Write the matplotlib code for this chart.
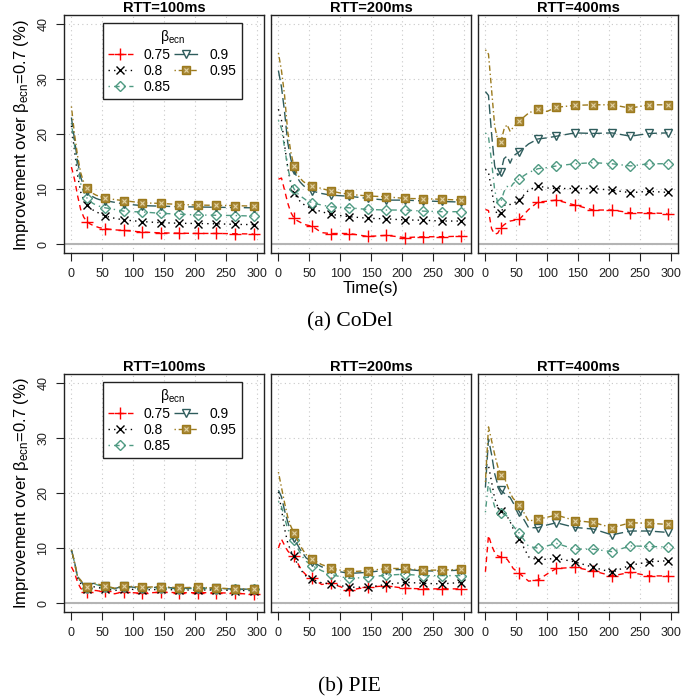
import matplotlib
matplotlib.use("Agg")
import matplotlib.pyplot as plt
from matplotlib.lines import Line2D

plt.rcParams['font.family'] = ['Liberation Sans', 'DejaVu Sans']
plt.rcParams['mathtext.fontset'] = 'custom'
plt.rcParams['mathtext.rm'] = 'Liberation Sans'
plt.rcParams['mathtext.it'] = 'Liberation Sans:italic'

# time axis (s) and the times where a marker is drawn
T = [0, 5, 10, 15, 20, 25, 30, 35, 40, 45, 55, 70, 85, 100, 115, 145, 175, 205, 235, 265, 295]
MARK_T = [25, 55, 85, 115, 145, 175, 205, 235, 265, 295]

betas = ['0.75', '0.8', '0.85', '0.9', '0.95']
rtts = ['RTT=100ms', 'RTT=200ms', 'RTT=400ms']

# improvement over beta_ecn=0.7 (%), one row per beta
codel_rtt100 = [
    [14.0, 11.8, 8.8, 6.3, 4.9, 4.1, 3.7, 3.4, 3.2, 3.0, 2.8, 2.6, 2.5, 2.35, 2.2, 2.05, 2.0, 1.95, 1.95, 1.9, 1.85],
    [21.5, 17.0, 12.5, 9.5, 8.0, 7.05, 6.6, 6.2, 5.9, 5.6, 5.1, 4.7, 4.4, 4.25, 4.1, 3.9, 3.8, 3.75, 3.7, 3.6, 3.55],
    [22.0, 18.0, 14.0, 11.0, 9.4, 8.4, 7.8, 7.4, 7.1, 6.9, 6.6, 6.3, 6.0, 5.9, 5.85, 5.6, 5.45, 5.3, 5.25, 5.2, 5.1],
    [23.0, 19.0, 15.0, 12.2, 10.5, 9.6, 9.0, 8.6, 8.3, 8.1, 7.9, 7.6, 7.3, 7.15, 7.0, 6.9, 6.8, 6.75, 6.7, 6.65, 6.6],
    [25.0, 20.0, 16.0, 13.0, 11.2, 10.2, 9.6, 9.2, 8.9, 8.7, 8.4, 8.1, 7.9, 7.7, 7.5, 7.4, 7.2, 7.1, 7.05, 7.0, 6.9],
]
codel_rtt200 = [
    [11.8, 12.0, 9.8, 7.5, 5.8, 4.8, 4.3, 4.0, 3.7, 3.5, 3.25, 2.1, 1.93, 1.95, 1.93, 1.4, 1.6, 1.2, 1.35, 1.35, 1.45],
    [24.5, 22.5, 18.0, 14.0, 11.0, 9.35, 8.5, 7.8, 7.3, 6.9, 6.45, 5.9, 5.4, 5.2, 5.0, 4.7, 4.6, 4.4, 4.35, 4.2, 4.2],
    [22.5, 21.0, 17.5, 14.0, 11.5, 10.1, 9.3, 8.8, 8.4, 8.0, 7.5, 7.1, 6.8, 6.7, 6.6, 6.3, 6.2, 6.2, 6.0, 5.9, 5.9],
    [31.5, 28.5, 24.0, 18.5, 15.5, 13.4, 12.2, 11.3, 10.7, 10.2, 9.65, 9.2, 8.9, 8.8, 8.7, 8.3, 8.0, 8.0, 7.85, 7.75, 7.65],
    [34.7, 31.5, 27.0, 20.5, 16.8, 14.2, 12.8, 12.0, 11.4, 11.0, 10.6, 10.1, 9.65, 9.3, 9.05, 8.75, 8.6, 8.3, 8.25, 8.15, 8.0],
]
codel_rtt400 = [
    [6.3, 6.1, 2.8, 1.8, 2.0, 3.0, 3.5, 3.9, 4.2, 4.3, 4.5, 6.3, 7.65, 7.8, 8.0, 7.1, 6.2, 6.2, 5.7, 5.7, 5.55],
    [13.6, 13.0, 10.0, 6.5, 5.2, 5.6, 7.0, 7.3, 7.2, 7.4, 8.1, 9.8, 10.6, 10.2, 10.1, 10.1, 10.1, 9.8, 9.35, 9.6, 9.4],
    [20.2, 19.5, 15.0, 9.8, 7.5, 7.65, 9.5, 10.5, 10.2, 11.0, 11.9, 13.0, 13.7, 13.9, 14.2, 14.6, 14.8, 14.6, 14.2, 14.6, 14.6],
    [27.7, 27.0, 20.0, 14.2, 12.5, 13.1, 15.5, 16.0, 14.7, 16.0, 16.8, 18.2, 19.1, 19.3, 19.6, 20.2, 20.1, 20.2, 19.6, 20.1, 20.2],
    [35.3, 34.5, 28.0, 21.5, 18.8, 18.5, 20.8, 21.7, 20.5, 21.2, 22.4, 23.8, 24.55, 24.1, 24.85, 25.2, 25.3, 25.3, 24.7, 25.3, 25.3],
]
pie_rtt100 = [
    [6.6, 5.5, 3.8, 2.7, 2.2, 2.0, 2.1, 2.3, 2.3, 2.2, 2.2, 1.7, 2.1, 1.9, 1.8, 2.0, 1.9, 1.9, 1.9, 1.8, 1.6],
    [9.5, 7.3, 4.6, 3.6, 2.9, 2.5, 2.8, 3.0, 2.9, 2.8, 2.6, 2.3, 2.6, 2.5, 2.4, 2.5, 2.4, 2.4, 2.4, 2.3, 2.3],
    [9.6, 7.4, 4.7, 3.9, 3.2, 2.8, 3.2, 3.5, 3.4, 3.2, 3.0, 2.6, 3.0, 2.8, 2.7, 2.8, 2.6, 2.7, 2.6, 2.5, 2.5],
    [9.7, 7.5, 4.8, 4.1, 3.3, 2.9, 3.3, 3.6, 3.5, 3.3, 3.1, 2.65, 3.1, 2.9, 2.8, 2.9, 2.7, 2.8, 2.7, 2.55, 2.55],
    [9.7, 7.5, 4.8, 4.2, 3.4, 3.0, 3.4, 3.7, 3.6, 3.4, 3.2, 2.7, 3.2, 3.0, 2.9, 3.0, 2.8, 2.9, 2.75, 2.6, 2.6],
]
pie_rtt200 = [
    [10.0, 11.6, 10.5, 9.5, 8.9, 8.55, 7.5, 6.5, 5.7, 5.1, 4.5, 3.4, 3.6, 3.0, 2.4, 2.9, 3.15, 2.7, 2.6, 2.6, 2.6],
    [20.2, 17.0, 13.5, 11.0, 9.5, 8.55, 7.3, 6.3, 5.5, 4.9, 4.3, 3.7, 3.5, 3.2, 2.9, 2.9, 3.4, 3.8, 3.6, 3.5, 3.75],
    [18.5, 17.5, 15.5, 13.5, 12.3, 11.45, 10.2, 9.2, 8.3, 7.6, 6.8, 5.9, 5.25, 4.8, 4.5, 4.7, 5.1, 5.25, 5.0, 5.0, 5.0],
    [20.5, 19.3, 16.8, 14.8, 13.0, 11.8, 10.8, 9.8, 9.0, 8.2, 7.5, 6.6, 6.15, 5.7, 5.4, 5.6, 6.0, 6.15, 5.85, 5.85, 6.0],
    [23.8, 21.0, 18.2, 15.7, 14.0, 12.8, 11.6, 10.5, 9.6, 8.8, 7.96, 7.0, 6.45, 6.0, 5.7, 5.9, 6.3, 6.3, 6.0, 6.0, 6.15],
]
pie_rtt400 = [
    [5.7, 12.3, 10.5, 9.2, 8.6, 8.4, 8.1, 8.0, 7.2, 6.3, 5.4, 4.0, 4.2, 5.3, 6.3, 6.5, 5.85, 4.95, 5.6, 4.95, 4.95],
    [24.5, 25.0, 22.0, 19.0, 17.5, 16.8, 16.3, 15.8, 14.8, 13.5, 11.7, 8.4, 7.85, 8.0, 8.15, 7.5, 6.5, 5.6, 6.9, 7.5, 7.7],
    [16.5, 22.0, 19.5, 17.5, 16.8, 16.4, 16.2, 15.8, 15.0, 14.0, 12.7, 10.3, 10.0, 10.4, 10.85, 9.8, 9.8, 9.35, 10.4, 10.3, 10.2],
    [21.0, 29.8, 27.0, 23.5, 21.5, 20.5, 20.0, 19.5, 19.2, 18.2, 16.6, 13.7, 13.7, 14.2, 14.6, 13.75, 13.45, 12.4, 13.1, 13.1, 12.85],
    [22.0, 32.0, 29.5, 27.0, 24.8, 23.2, 23.0, 21.5, 20.0, 19.0, 17.9, 14.9, 15.25, 15.6, 16.0, 15.0, 14.65, 13.7, 14.6, 14.5, 14.3],
]

# styles (R-like lty / pch)
colors = ['#ff0000', '#000000', '#4f9a82', '#2e5c5c', '#9c7a1c']
lstyles = [(0, (4, 3)), (0, (1, 3)), (0, (1, 3, 4, 3)), (0, (7, 3)), (0, (1, 2, 4, 2))]
markers = ['+', 'x', 'D', 'v', 's']
msizes = [8, 6, 5.5, 6, 6]
mfcs = ['none', 'none', 'none', 'none', '#a98a3a']

marks = [T.index(t) for t in MARK_T]

fig = plt.figure(figsize=(6.97, 6.97), dpi=100)

W = 200 / 697
H = 238 / 697
lefts = [64 / 697, 271 / 697, 478 / 697]
groups = [
    ('(a) CoDel', [codel_rtt100, codel_rtt200, codel_rtt400], 1 - 253 / 697, 1 - 322 / 697, 1 - 135 / 697, True),
    ('(b) PIE', [pie_rtt100, pie_rtt200, pie_rtt400], 1 - 612 / 697, 1 - 687 / 697, 1 - 493 / 697, False),
]

ylab = 'Improvement over β$_{\\rm ecn}$=0.7 (%)'

for caption, panels, bottom, cap_y, lab_y, show_time in groups:
    for j, data in enumerate(panels):
        ax = fig.add_axes([lefts[j], bottom, W, H])
        ax.set_xlim(-12, 312)
        ax.set_ylim(-1.6, 41.6)
        ax.set_xticks(range(0, 301, 50))
        ax.set_yticks(range(0, 41, 10))
        ax.grid(True, linestyle=(0, (1, 3)), color='#c8c8c8', lw=0.8)
        ax.set_axisbelow(True)
        ax.axhline(0, color='#b4b4b4', lw=1.5, zorder=1)
        for i, vals in enumerate(data):
            ax.plot(T, vals, color=colors[i], ls=lstyles[i], lw=1.0,
                    marker=markers[i], markevery=marks, ms=msizes[i],
                    mfc=mfcs[i], mec=colors[i], mew=1.0, zorder=3)
            if i == 4:
                ax.plot([T[k] for k in marks], [vals[k] for k in marks], ls='none',
                        marker='x', ms=3.2, color='#e2d3a4', mew=0.8, zorder=4)
        for s in ax.spines.values():
            s.set_linewidth(1.0)
            s.set_color('#222222')
        ax.tick_params(direction='out', length=5.5, width=0.8, labelsize=9, pad=5,
                       colors='#222222')
        ax.set_title(rtts[j], fontsize=10.5, fontweight='bold', pad=2)
        if j == 0:
            for lbl in ax.get_yticklabels():
                lbl.set_rotation(90)
                lbl.set_va('center')
            handles = []
            for i in range(5):
                h = Line2D([], [], color=colors[i], ls=lstyles[i], lw=1.0, marker=markers[i],
                           ms=msizes[i], mfc=mfcs[i], mec=colors[i], mew=1.0)
                if i == 4:
                    hx = Line2D([], [], ls='none', marker='x', ms=3.2, color='#e2d3a4', mew=0.8)
                    h = (h, hx)
                handles.append(h)
            leg = ax.legend(handles, betas, ncol=2, loc='upper left',
                            bbox_to_anchor=(0.195, 0.966), title='β$_{\\rm ecn}$',
                            fontsize=10, title_fontsize=10, frameon=True, fancybox=False,
                            edgecolor='#222222', framealpha=1, borderpad=0.35,
                            handlelength=1.8, handletextpad=0.8, columnspacing=0.2,
                            labelspacing=0.15, borderaxespad=0)
            leg.get_frame().set_linewidth(1.0)
        else:
            ax.tick_params(axis='y', left=False, labelleft=False)
    fig.text(22 / 697, lab_y, ylab, rotation=90, ha='center', va='center', fontsize=12)
    fig.text(0.502, cap_y, caption, ha='center', va='center', fontsize=15.5,
             family=['Liberation Serif', 'DejaVu Serif'])
    if show_time:
        fig.text(0.532, 1 - 288 / 697, 'Time(s)', ha='center', va='center', fontsize=12)

fig.savefig('out.png', dpi=100)
